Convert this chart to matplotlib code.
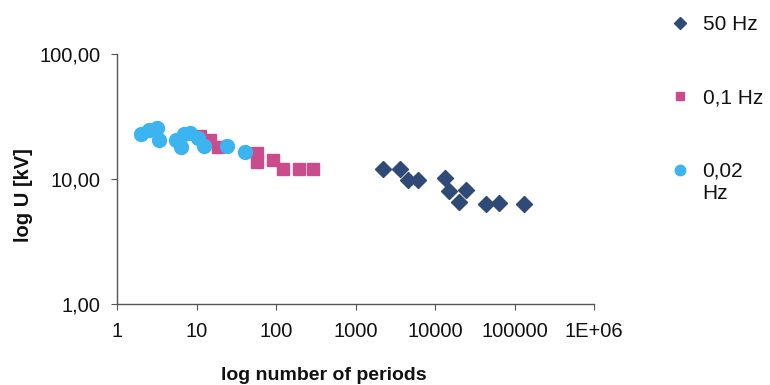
import numpy as np
import matplotlib
matplotlib.use("Agg")
import matplotlib.pyplot as plt
from matplotlib.legend_handler import HandlerLine2D
from matplotlib.ticker import FixedLocator, FixedFormatter

plt.rcParams['font.family'] = ['Liberation Sans', 'DejaVu Sans']

# 50 Hz (diamonds)
x_50 = [2250, 3680, 4510, 6200, 13500, 14800, 24200, 19800, 43200, 63000, 130000]
y_50 = [12.0, 12.0, 9.8, 9.8, 10.2, 8.0, 8.2, 6.55, 6.3, 6.4, 6.3]

# 0,1 Hz (squares)
x_01 = [11.2, 15.0, 18.4, 58.5, 58.5, 93, 124, 192, 296]
y_01 = [22.1, 20.5, 18.0, 16.1, 13.7, 14.2, 12.0, 12.0, 12.0]

# 0,02 Hz (circles)
x_002 = [2.03, 2.56, 3.23, 3.33, 5.6, 6.3, 6.9, 8.4, 10.3, 12.6, 24.5, 41.3]
y_002 = [22.9, 24.7, 25.6, 20.5, 20.5, 18.0, 22.9, 23.3, 21.3, 18.4, 18.4, 16.4]

x_ticks = [1, 10, 100, 1000, 10000, 100000, 1000000]
x_ticklabels = ['1', '10', '100', '1000', '10000', '100000', '1E+06']
y_ticks = [1, 10, 100]
y_ticklabels = ['1,00', '10,00', '100,00']

c_50 = '#304A78'
c_01 = '#CB4C8C'
c_002 = '#3CB4F0'

fig = plt.figure(figsize=(7.7, 3.85), dpi=100)
ax = fig.add_axes([117/770, 1-304/385, (594-117)/770, (304-54)/385])

l1, = ax.plot(x_50, y_50, linestyle='none', marker='D', ms=8, color=c_50, label='50 Hz')
l2, = ax.plot(x_01, y_01, linestyle='none', marker='s', ms=8, color=c_01, label='0,1 Hz')
l3, = ax.plot(x_002, y_002, linestyle='none', marker='o', ms=10, color=c_002, label='0,02\nHz')

ax.set_xscale('log')
ax.set_yscale('log')
ax.set_xlim(1, 1e6)
ax.set_ylim(1, 100)
ax.xaxis.set_major_locator(FixedLocator(x_ticks))
ax.xaxis.set_major_formatter(FixedFormatter(x_ticklabels))
ax.yaxis.set_major_locator(FixedLocator(y_ticks))
ax.yaxis.set_major_formatter(FixedFormatter(y_ticklabels))
ax.xaxis.set_minor_locator(FixedLocator([]))
ax.yaxis.set_minor_locator(FixedLocator([]))

for s in ['top', 'right']:
    ax.spines[s].set_visible(False)
for s in ['left', 'bottom']:
    ax.spines[s].set_color('#555555')
    ax.spines[s].set_linewidth(1.0)

ax.tick_params(axis='both', which='major', direction='out', length=4,
               color='#555555', labelsize=14.5, labelcolor='#111111')
ax.tick_params(axis='x', pad=9)
ax.tick_params(axis='y', pad=8)

ax.set_xlabel('log number of periods', fontsize=14, fontweight='bold', color='#111111')
ax.xaxis.set_label_coords(0.434, -0.253)
ax.set_ylabel('log U [kV]', fontsize=14.5, fontweight='bold', color='#111111')
ax.yaxis.set_label_coords(-0.176, 0.436)


class ShiftHandler(HandlerLine2D):
    def __init__(self, dy=0, **kw):
        super().__init__(**kw)
        self.dy = dy

    def create_artists(self, legend, orig_handle, xdescent, ydescent, width,
                       height, fontsize, trans):
        arts = super().create_artists(legend, orig_handle, xdescent, ydescent,
                                      width, height, fontsize, trans)
        for a in arts:
            a.set_ydata(np.asarray(a.get_ydata(), dtype=float) + self.dy)
        return arts


leg = fig.legend(handles=[l1, l2, l3], loc='upper left',
                 bbox_to_anchor=(663/770, 1-7/385), frameon=False,
                 fontsize=15, labelspacing=2.6, handlelength=0.8,
                 handletextpad=0.7, borderaxespad=0, markerscale=0.75,
                 handler_map={l3: ShiftHandler(dy=9, numpoints=1)},
                 numpoints=1)
for t in leg.get_texts():
    t.set_color('#111111')
    t.set_linespacing(1.2)

fig.savefig('out.png', dpi=100)
